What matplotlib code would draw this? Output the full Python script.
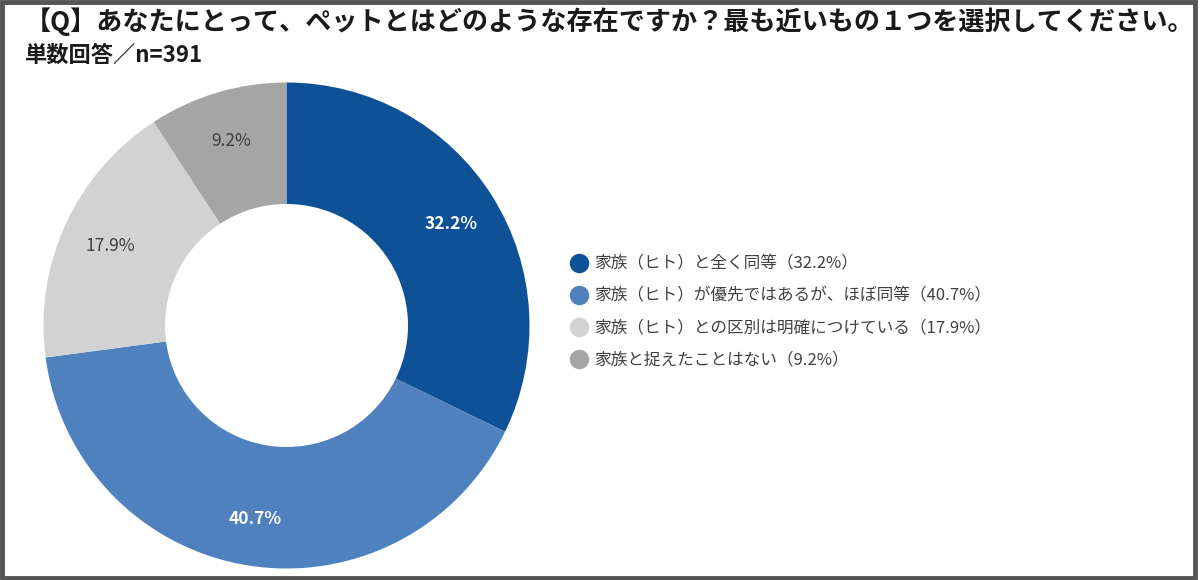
import matplotlib.pyplot as plt
from matplotlib.lines import Line2D
from matplotlib.patches import Rectangle
import numpy as np

plt.rcParams['font.family'] = ['Noto Sans CJK JP', 'DejaVu Sans']

# data
labels = ['家族（ヒト）と全く同等', '家族（ヒト）が優先ではあるが、ほぼ同等',
          '家族（ヒト）との区別は明確につけている', '家族と捉えたことはない']
values = [32.2, 40.7, 17.9, 9.2]
colors = ['#0F5196', '#4F81BF', '#D2D2D2', '#A5A5A5']
pct_colors = ['white', 'white', '#404040', '#404040']
pct_weights = ['bold', 'bold', 'normal', 'normal']

title = '【Q】あなたにとって、ペットとはどのような存在ですか？最も近いもの１つを選択してください。'
subtitle = '単数回答／n=391'

fig = plt.figure(figsize=(12, 5.8), dpi=100)
ax = fig.add_axes([0.03625, 0.0198, 0.405, 0.838])
wedges, _ = ax.pie(values, colors=colors, startangle=90, counterclock=False,
                   radius=1, wedgeprops=dict(width=0.5, linewidth=0))
# percent labels at 0.8 of the radius
cum = np.cumsum([0] + values[:-1])
for v, c0, col, w in zip(values, cum, pct_colors, pct_weights):
    ang = np.deg2rad(90 - (c0 + v / 2) / sum(values) * 360)
    ax.text(0.8 * np.cos(ang), 0.8 * np.sin(ang), f'{v}%', ha='center', va='center_baseline',
            color=col, fontsize=12.5, fontweight=w)
ax.set_xlim(-1, 1)
ax.set_ylim(-1, 1)
ax.set_aspect('equal')
ax.axis('off')

handles = [Line2D([], [], marker='o', linestyle='', markersize=13, color=c) for c in colors]
leg_labels = [f'{l}（{v}%）' for l, v in zip(labels, values)]
leg = fig.legend(handles, leg_labels, loc='center left', bbox_to_anchor=(0.462, 0.462),
                 frameon=False, fontsize=12, labelspacing=0.9, handletextpad=0.3,
                 handlelength=1.2)
for t in leg.get_texts():
    t.set_color('#404040')

fig.text(0.021, 0.962, title, fontsize=18.8, fontweight='bold', color='#1a1a1a', va='center')
fig.text(0.021, 0.905, subtitle, fontsize=16, fontweight='bold', color='#1a1a1a', va='center')

# frame
fig.patches.append(Rectangle((0.002, 0.003), 0.994, 0.993, transform=fig.transFigure,
                             fill=False, edgecolor='#555555', linewidth=3.5))

fig.savefig('out.png', dpi=100)
